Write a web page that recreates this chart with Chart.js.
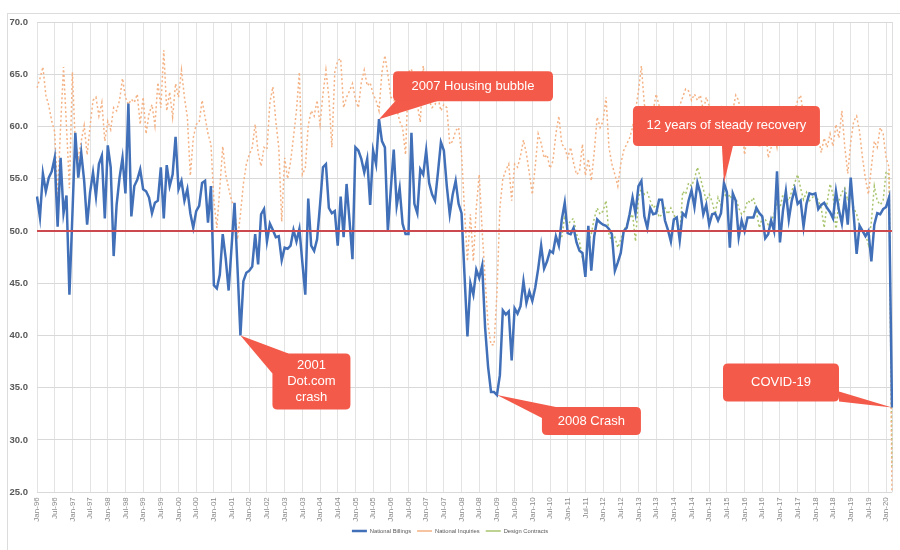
<!DOCTYPE html>
<html>
<head>
<meta charset="utf-8">
<script src="https://cdn.jsdelivr.net/npm/chart.js@4.4.1/dist/chart.umd.min.js"></script>
<style>
  html, body { margin: 0; padding: 0; background: #fff; }
  #wrap { width: 900px; height: 550px; }
</style>
</head>
<body>
<div id="wrap"><canvas id="c"></canvas></div>
<script>
// monthly series Jan-96 .. Mar-20
const monthNames = ['Jan', 'Feb', 'Mar', 'Apr', 'May', 'Jun', 'Jul', 'Aug', 'Sep', 'Oct', 'Nov', 'Dec'];
const firstYear = 1996;
const monthCount = 291;

const billings = [
  53.3, 51.3, 55.5, 53.8, 55.1, 55.7, 57.0, 50.4, 57.0, 51.7, 53.4, 43.9, // 1996
  51.5, 59.4, 55.1, 57.5, 54.8, 50.6, 53.7, 55.6, 53.3, 56.4, 57.2, 51.2, // 1997
  58.2, 56.1, 47.6, 52.5, 55.1, 57.0, 53.6, 62.2, 51.4, 54.3, 54.9, 55.9, // 1998
  54.0, 53.8, 53.2, 51.7, 52.7, 52.9, 56.1, 51.2, 56.3, 54.3, 55.4, 59.0, // 1999
  54.0, 54.8, 52.9, 54.0, 51.7, 50.3, 51.9, 52.4, 54.6, 54.8, 50.8, 54.3, // 2000
  44.8, 44.5, 45.8, 49.7, 47.4, 44.3, 48.5, 52.7, 46.5, 40.0, 45.2, 46.0, // 2001
  46.2, 46.6, 49.7, 46.8, 51.6, 52.1, 49.0, 50.7, 50.1, 49.4, 49.5, 47.2, // 2002
  48.4, 48.3, 48.6, 50.1, 49.0, 50.2, 47.0, 43.9, 53.1, 48.6, 48.1, 49.2, // 2003
  52.5, 56.1, 56.4, 52.2, 51.7, 51.9, 48.6, 53.3, 49.4, 54.5, 51.0, 47.3, // 2004
  58.0, 57.7, 56.9, 55.6, 56.9, 52.5, 57.7, 56.4, 60.7, 58.6, 58.0, 50.0, // 2005
  54.0, 57.8, 52.4, 54.1, 50.7, 49.7, 49.7, 59.4, 52.6, 51.7, 55.9, 55.4, // 2006
  57.7, 54.6, 53.5, 52.9, 55.6, 58.5, 57.7, 54.3, 51.6, 53.5, 54.8, 52.6, // 2007
  51.7, 45.8, 39.9, 45.0, 43.9, 46.3, 45.5, 46.7, 40.7, 37.0, 34.6, 34.6, // 2008
  34.3, 36.2, 42.4, 42.0, 42.3, 37.6, 42.6, 42.1, 42.8, 45.2, 43.1, 44.2, // 2009
  43.3, 44.6, 46.4, 48.6, 46.4, 47.1, 48.1, 47.9, 49.5, 48.6, 51.1, 52.7, // 2010
  49.8, 49.7, 50.3, 48.9, 48.1, 47.9, 45.6, 50.5, 46.2, 49.5, 51.1, 50.8, // 2011
  50.6, 50.5, 50.2, 49.7, 46.2, 47.0, 47.9, 50.0, 50.3, 51.6, 53.2, 51.7, // 2012
  54.3, 54.8, 51.4, 50.3, 52.2, 51.6, 51.7, 53.0, 53.0, 51.0, 50.1, 49.0, // 2013
  51.1, 51.3, 49.1, 51.7, 51.4, 52.9, 53.9, 52.3, 54.6, 53.6, 51.6, 52.5, // 2014
  50.6, 51.6, 51.7, 51.0, 51.7, 54.6, 53.7, 48.4, 53.6, 52.9, 49.4, 51.0, // 2015
  50.0, 51.3, 51.3, 51.3, 52.2, 51.7, 51.4, 49.3, 49.7, 51.0, 50.0, 55.7, // 2016
  48.9, 51.9, 53.8, 51.1, 52.9, 54.0, 52.6, 52.9, 50.4, 52.6, 53.6, 53.5, // 2017
  53.6, 52.1, 52.5, 52.7, 52.2, 51.8, 51.2, 53.8, 52.0, 50.7, 53.2, 50.6, // 2018
  55.1, 51.6, 47.8, 50.5, 50.0, 49.5, 50.0, 47.1, 50.6, 51.7, 51.6, 52.1, // 2019
  52.3, 53.2, 33.1                                                        // 2020
];

const inquiries = [
  63.7, 64.6, 65.7, 63.0, 62.0, 60.5, 59.5, 53.2, 60.0, 65.7, 60.0, 54.1, // 1996
  65.2, 58.3, 57.0, 58.6, 60.1, 57.3, 60.0, 62.5, 62.8, 61.0, 62.3, 58.6, // 1997
  60.5, 59.7, 61.8, 61.5, 62.5, 64.6, 62.8, 62.1, 62.6, 62.3, 63.1, 60.2, // 1998
  62.8, 59.3, 61.2, 62.1, 60.1, 64.2, 61.8, 67.3, 61.5, 63.3, 60.9, 64.1, // 1999
  62.8, 65.4, 62.8, 60.9, 55.3, 58.9, 60.2, 60.4, 62.5, 60.9, 59.3, 58.3, // 2000
  52.9, 50.3, 54.1, 58.1, 55.4, 54.1, 52.9, 52.2, 49.2, 51.6, 54.5, 56.4, // 2001
  57.3, 58.0, 60.2, 57.5, 56.2, 58.0, 57.8, 62.3, 63.8, 60.5, 58.0, 50.9, // 2002
  57.0, 55.0, 56.6, 59.0, 61.5, 65.2, 55.4, 56.0, 60.1, 61.5, 61.0, 62.5, // 2003
  60.2, 63.1, 65.4, 62.8, 58.0, 65.2, 66.3, 66.5, 61.8, 62.8, 63.4, 64.1, // 2004
  62.6, 61.8, 64.2, 65.4, 63.9, 64.2, 63.1, 62.5, 61.5, 65.2, 66.8, 65.0, // 2005
  62.8, 62.6, 61.8, 60.5, 59.9, 57.3, 65.2, 65.5, 63.8, 62.1, 60.4, 65.8, // 2006
  63.0, 62.5, 61.8, 62.1, 62.8, 61.5, 62.1, 61.8, 58.3, 58.6, 59.6, 59.9, // 2007
  57.4, 52.0, 47.1, 51.6, 47.1, 52.2, 55.4, 50.0, 45.4, 41.0, 39.1, 39.1, // 2008
  44.0, 52.2, 55.0, 55.8, 56.4, 52.9, 56.4, 56.1, 57.2, 58.7, 57.4, 55.5, // 2009
  53.5, 56.2, 59.3, 58.4, 57.0, 57.3, 56.0, 56.7, 59.3, 61.0, 58.3, 58.0, // 2010
  57.0, 58.0, 56.5, 55.4, 55.7, 58.3, 55.3, 56.9, 54.8, 57.5, 60.9, 59.9, // 2011
  60.5, 62.8, 58.0, 56.4, 55.4, 54.3, 56.4, 57.7, 58.3, 58.9, 59.9, 61.5, // 2012
  63.4, 65.8, 62.1, 61.2, 61.5, 61.5, 63.1, 62.0, 61.0, 60.0, 59.0, 60.5, // 2013
  60.5, 61.0, 62.0, 62.8, 63.6, 63.4, 62.5, 63.1, 62.5, 63.0, 61.5, 62.8, // 2014
  62.0, 61.0, 60.5, 61.5, 62.0, 61.0, 60.0, 59.5, 61.5, 63.0, 62.5, 60.0, // 2015
  57.3, 59.5, 58.5, 60.0, 58.5, 58.0, 59.0, 60.5, 57.0, 58.0, 59.5, 58.0, // 2016
  60.0, 61.5, 60.5, 61.0, 62.0, 61.5, 62.5, 63.0, 61.0, 60.5, 61.5, 60.0, // 2017
  60.0, 59.0, 57.5, 58.9, 58.0, 59.3, 58.1, 60.2, 58.9, 61.5, 58.0, 55.5, // 2018
  58.5, 60.5, 61.0, 59.5, 57.0, 55.0, 53.5, 56.1, 58.6, 58.0, 59.9, 59.3, // 2019
  57.0, 56.1, 24.6                                                        // 2020
];

// design contracts begin Nov-10
const contractsStart = 178;
const contracts = [
  49.4, 51.5,                                                             // 2010
  50.5, 51.0, 51.2, 49.7, 49.0, 47.4, 46.8, 49.0, 49.7, 51.2, 52.2, 51.6, // 2011
  51.9, 52.9, 49.7, 49.0, 49.4, 48.4, 49.2, 50.0, 50.6, 51.2, 51.6, 49.0, // 2012
  53.2, 54.1, 53.5, 53.7, 52.9, 52.2, 52.5, 51.3, 51.6, 52.2, 51.6, 52.2, // 2013
  51.6, 51.0, 49.5, 53.8, 53.5, 54.6, 54.3, 55.0, 56.1, 55.1, 54.0, 52.9, // 2014
  53.5, 52.8, 51.6, 53.2, 52.5, 53.8, 53.0, 53.5, 52.8, 53.2, 52.2, 51.6, // 2015
  51.9, 52.9, 52.7, 53.2, 51.9, 50.3, 51.3, 51.1, 50.6, 51.0, 51.6, 52.6, // 2016
  52.2, 53.5, 53.2, 52.9, 53.8, 54.6, 55.4, 54.1, 53.0, 53.7, 52.9, 53.2, // 2017
  53.5, 52.9, 52.2, 50.3, 52.7, 54.5, 53.5, 50.0, 52.9, 53.7, 54.1, 52.9, // 2018
  53.7, 52.2, 51.6, 50.6, 50.0, 49.7, 48.7, 50.9, 54.3, 52.9, 52.5, 52.9, // 2019
  55.7, 55.4, 27.5                                                        // 2020
];

const threshold = 50;

const labels = [];
for (let i = 0; i < monthCount; i++) {
  const yr = (firstYear + Math.floor(i / 12)) % 100;
  labels.push(monthNames[i % 12] + '-' + String(yr).padStart(2, '0'));
}

// callouts: anchor month index + value, box and tail offsets relative to that point
const callouts = [
  {lines: ['2007 Housing bubble'], at: 116, v: 60.7, box: [14, -48, 160, 30], tail: [[17, -19], [61, -19]]},
  {lines: ['2001', 'Dot.com', 'crash'], at: 69, v: 40.0, box: [32, 18, 78, 56], tail: [[48, 18], [32, 38]]},
  {lines: ['2008 Crash'], at: 156, v: 34.3, box: [45, 12, 99, 28], tail: [[59, 12], [45, 23]]},
  {lines: ['12 years of steady recovery'], at: 233, v: 54.6, box: [-91, -77, 187, 40], tail: [[-2, -37], [9, -37]]},
  {lines: ['COVID-19'], at: 290, v: 33.1, box: [-169, -44, 116, 38], tail: [[-53, -16], [-53, -6]]}
];

const calloutColor = '#f45a49';

const decorations = {
  id: 'decorations',
  beforeDraw(chart) {
    const ctx = chart.ctx;
    ctx.save();
    ctx.fillStyle = '#fff';
    ctx.fillRect(0, 0, chart.width, chart.height);
    ctx.strokeStyle = '#dcdcdc';
    ctx.lineWidth = 1;
    ctx.strokeRect(7.5, 13.5, 920, 600);
    ctx.restore();
  },
  beforeDatasetsDraw(chart) {
    const {ctx, chartArea} = chart;
    ctx.save();
    ctx.strokeStyle = '#dedede';
    ctx.lineWidth = 1;
    ctx.beginPath();
    ctx.moveTo(Math.round(chartArea.right) + 0.5, chartArea.top);
    ctx.lineTo(Math.round(chartArea.right) + 0.5, chartArea.bottom);
    ctx.stroke();
    ctx.restore();
  },
  afterDatasetsDraw(chart) {
    const {ctx, chartArea, scales: {x, y}} = chart;
    ctx.save();
    // 50 line
    const y50 = y.getPixelForValue(threshold);
    ctx.strokeStyle = '#cc4a4f';
    ctx.lineWidth = 1.8;
    ctx.beginPath();
    ctx.moveTo(chartArea.left, y50);
    ctx.lineTo(chartArea.right, y50);
    ctx.stroke();

    ctx.font = '13px "Liberation Sans", Arial, sans-serif';
    ctx.textAlign = 'center';
    ctx.textBaseline = 'middle';
    callouts.forEach(c => {
      const px = x.getPixelForValue(c.at);
      const py = y.getPixelForValue(c.v);
      const [bx, by, bw, bh] = c.box;
      const l = px + bx, t = py + by, r = 5;
      ctx.fillStyle = calloutColor;
      ctx.beginPath();
      ctx.moveTo(l + r, t);
      ctx.lineTo(l + bw - r, t);
      ctx.quadraticCurveTo(l + bw, t, l + bw, t + r);
      ctx.lineTo(l + bw, t + bh - r);
      ctx.quadraticCurveTo(l + bw, t + bh, l + bw - r, t + bh);
      ctx.lineTo(l + r, t + bh);
      ctx.quadraticCurveTo(l, t + bh, l, t + bh - r);
      ctx.lineTo(l, t + r);
      ctx.quadraticCurveTo(l, t, l + r, t);
      ctx.closePath();
      ctx.fill();
      ctx.beginPath();
      ctx.moveTo(px, py);
      ctx.lineTo(px + c.tail[0][0], py + c.tail[0][1]);
      ctx.lineTo(px + c.tail[1][0], py + c.tail[1][1]);
      ctx.closePath();
      ctx.fill();
      ctx.fillStyle = '#fff';
      const lh = 16;
      const y0 = t + bh / 2 - (c.lines.length - 1) * lh / 2;
      c.lines.forEach((s, k) => ctx.fillText(s, l + bw / 2, y0 + k * lh));
    });
    ctx.restore();
  }
};

new Chart(document.getElementById('c'), {
  type: 'line',
  data: {
    labels,
    datasets: [
      {label: 'National Billings', data: billings, borderColor: '#4170b8', backgroundColor: '#4170b8',
        borderWidth: 2.5, pointRadius: 0, tension: 0},
      {label: 'National Inquiries', data: inquiries, borderColor: '#f4b183', backgroundColor: '#f4b183',
        borderWidth: 1.5, borderDash: [2, 2.5], pointRadius: 0, tension: 0},
      {label: 'Design Contracts', data: Array(contractsStart).fill(null).concat(contracts),
        borderColor: '#a8c46c', backgroundColor: '#a8c46c',
        borderWidth: 1.5, borderDash: [2, 2.5], pointRadius: 0, tension: 0}
    ]
  },
  options: {
    responsive: true, maintainAspectRatio: false, animation: false,
    layout: {padding: {left: 8, right: 8, top: 22, bottom: 6}},
    scales: {
      x: {
        offset: false,
        border: {display: false},
        grid: {color: c => c.index % 6 === 0 ? '#e3e3e3' : 'transparent', drawTicks: false},
        ticks: {
          autoSkip: false, maxRotation: 90, minRotation: 90, padding: 5,
          color: '#8a8a8a', font: {family: '"Liberation Sans", Arial', size: 8},
          callback: (v, i) => i % 6 === 0 ? labels[i] : ''
        },
        afterFit: a => { a.height = 30; a.paddingRight = 0; a.paddingLeft = 0; }
      },
      y: {
        min: 25, max: 70,
        border: {display: false},
        grid: {color: '#d9d9d9', drawTicks: false},
        ticks: {
          stepSize: 5, padding: 9, color: '#595959',
          font: {family: '"Liberation Sans", Arial', size: 9.5, weight: 'bold'},
          callback: v => v.toFixed(1)
        },
        afterFit: a => { a.width = 29; }
      }
    },
    plugins: {
      legend: {
        position: 'bottom',
        labels: {
          usePointStyle: true, pointStyle: 'line', pointStyleWidth: 15, padding: 6,
          color: '#595959', font: {family: '"Liberation Sans", Arial', size: 5.8}
        }
      },
      tooltip: {enabled: false}
    }
  },
  plugins: [decorations]
});
</script>
</body>
</html>
